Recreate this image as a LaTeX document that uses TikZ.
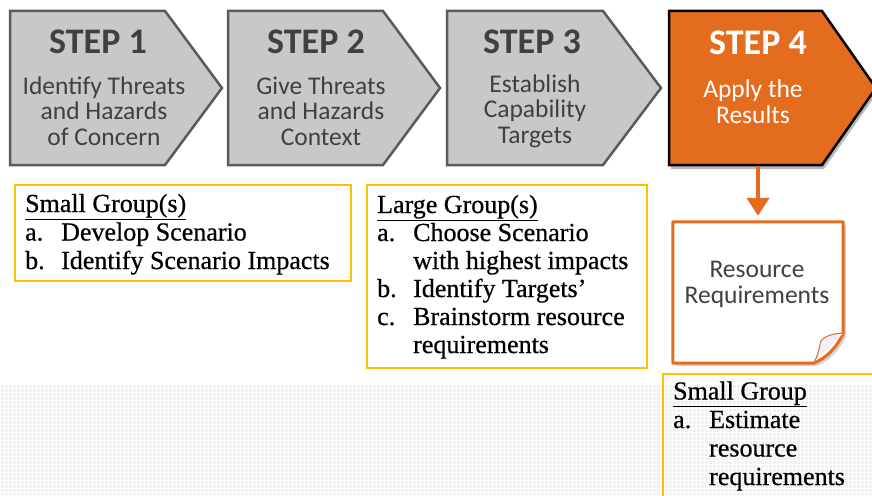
\documentclass[tikz,border=0pt]{standalone}
\usepackage{fontspec}
\setmainfont{Liberation Serif}
\newfontfamily\stepfont{Carlito}
\newfontfamily\groupfont{Liberation Serif}[FakeBold=0.6, Ligatures=TeX]
\usetikzlibrary{positioning}
\usetikzlibrary{arrows.meta, shadows}

\definecolor{stepfill}{RGB}{200,200,203}
\definecolor{stepline}{RGB}{90,90,90}
\definecolor{steptxt}{RGB}{64,64,64}
\definecolor{applyorange}{RGB}{227,108,30}
\definecolor{groupline}{RGB}{255,192,0}
\definecolor{gridbg}{RGB}{241,241,241}

\tikzset{
    grayarrow/.style={fill=stepfill, draw=stepline, line width=2.5pt, line join=miter},
    orangearrow/.style={fill=applyorange, draw=black, line width=2.5pt, line join=miter,
        drop shadow={shadow xshift=2pt, shadow yshift=-4pt, opacity=0.55}},
    steptitle/.style={font=\stepfont\fontsize{36}{38}\selectfont\bfseries, text=steptxt, inner sep=0},
    stepbody/.style={font=\stepfont\fontsize{25.5}{25.5}\selectfont, text=steptxt, align=center, inner sep=0},
    groupbox/.style={draw=groupline, line width=1.5pt},
    grouptext/.style={font=\groupfont\fontsize{26}{28.5}\selectfont, align=left, inner sep=0},
    docline/.style={draw=applyorange, line width=3pt, fill=white, line join=round}
}
\newcommand{\itm}[1]{\makebox[36pt][l]{#1}}

\begin{document}
\begin{tikzpicture}[x=1pt, y=-1pt]
    \useasboundingbox (0,0) rectangle (872,495);

    % light grid at the bottom
    \fill[gridbg] (0,385) rectangle (872,495);
    \draw[white, line width=0.6pt, step=4pt] (0,385) grid (872,495);

    % the four steps
    \draw[grayarrow] (10,11) -- (165,11) -- (222,88) -- (165,165) -- (10,165) -- cycle;
    \draw[grayarrow] (228,11) -- (383,11) -- (440,88) -- (383,165) -- (228,165) -- cycle;
    \draw[grayarrow] (447,11) -- (603,11) -- (661,88) -- (603,165) -- (447,165) -- cycle;
    \draw[orangearrow] (669,11) -- (822,11) -- (876,88) -- (822,165) -- (669,165) -- cycle;

    % base anchor = last line
    \node[steptitle, anchor=base] (t1) at (98,53) {STEP 1};
    \node[stepbody, anchor=base] (step1) at (104,145) {Identify Threats\\and Hazards\\of Concern};
    \node[steptitle, anchor=base] (t2) at (316,53) {STEP 2};
    \node[stepbody, anchor=base] (step2) at (321,145) {Give Threats\\and Hazards\\Context};
    \node[steptitle, anchor=base] (t3) at (532,53) {STEP 3};
    \node[stepbody, anchor=base] (step3) at (535,143) {Establish\\Capability\\Targets};
    \node[steptitle, anchor=base, text=white] (t4) at (758,55) {STEP 4};
    \node[stepbody, anchor=base, text=white] (step4) at (753,123) {Apply the\\Results};

    % resource requirements sheet
    \coordinate (s4bot) at (758,166);
    \node[minimum width=170pt, minimum height=141pt, inner sep=0] (doc) at (758,292.5) {};
    \draw[docline, drop shadow={shadow xshift=3pt, shadow yshift=-3pt, opacity=0.35}]
        (doc.north west) -- (doc.north east) -- ([yshift=30pt]doc.south east)
        .. controls +(-6pt,-14pt) and +(12pt,4pt) .. ([xshift=-30pt]doc.south east)
        -- (doc.south west) -- cycle;
    \draw[draw=applyorange, line width=1pt, fill=gray!12]
        ([yshift=30pt]doc.south east) .. controls +(-11pt,0pt) and +(1pt,6pt) .. ([xshift=-23pt,yshift=20pt]doc.south east)
        .. controls +(-1pt,-7pt) and +(3pt,3pt) .. ([xshift=-30pt]doc.south east);
    \node[stepbody, anchor=base] (res) at (757,303) {Resource\\Requirements};
    \draw[applyorange, line width=4pt, -{Triangle[width=22pt, length=18pt]}, shorten >=6pt] (s4bot) -- (doc.north);

    % group tasks
    \draw[groupbox] (15,185) rectangle (351,281);
    \node[grouptext, anchor=base west] (small1) at (25,269)
        {\underline{Small Group(s)}\\\itm{a.}Develop Scenario\\\itm{b.}Identify Scenario Impacts};
    \draw[groupbox] (367,185) rectangle (647,368);
    \node[grouptext, anchor=base west, font=\groupfont\fontsize{26}{28}\selectfont] (large) at (377,353)
        {\underline{Large Group(s)}\\\itm{a.}Choose Scenario\\\itm{}with highest impacts\\\itm{b.}Identify Targets’\\\itm{c.}Brainstorm resource\\\itm{}requirements};
    \draw[groupbox] (663,500) -- (663,374) -- (880,374);
    \node[grouptext, anchor=base west] (small2) at (673,485)
        {\underline{Small Group}\\\itm{a.}Estimate\\\itm{}resource\\\itm{}requirements};
\end{tikzpicture}
\end{document}
